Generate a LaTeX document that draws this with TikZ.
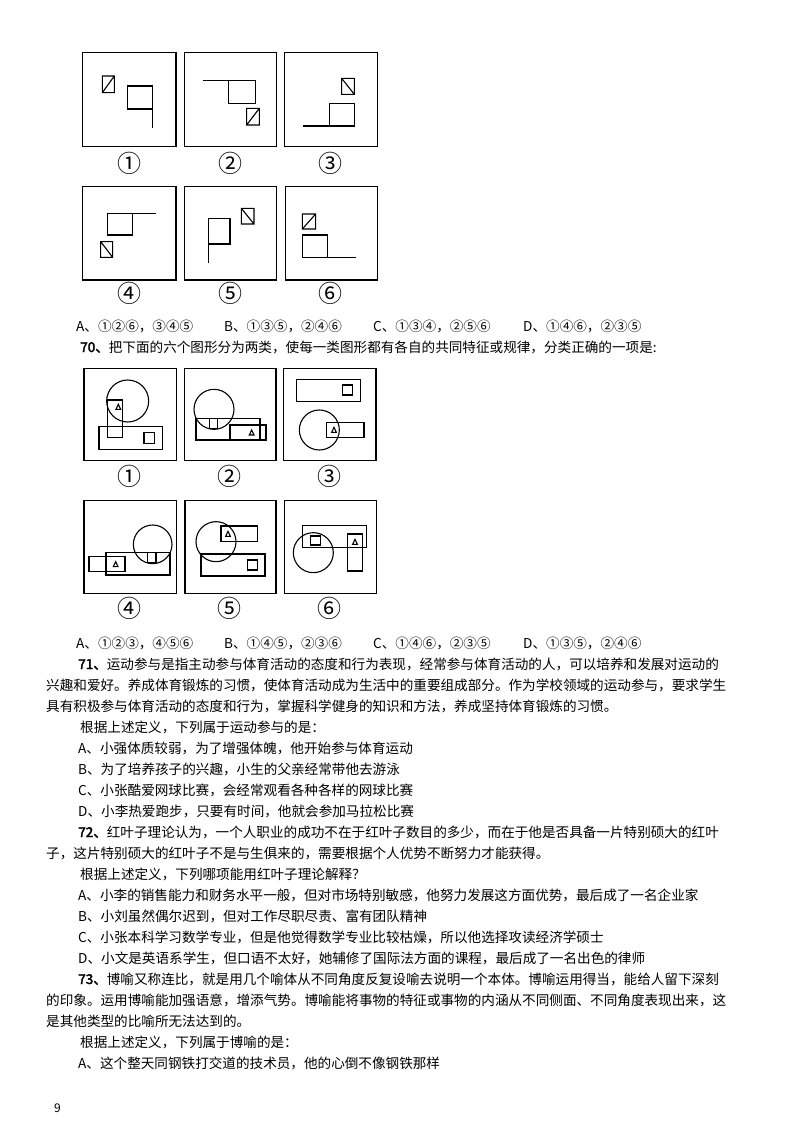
\documentclass[tikz,border=0pt]{standalone}
\usepackage{fontspec}
\newfontfamily\cjk{Noto Sans CJK SC}
\newfontfamily\cjkb[FakeBold=2.5]{Noto Sans CJK SC}
\begin{document}
\begin{tikzpicture}[x=1pt,y=-1pt,
  frame/.style={line width=1.6pt},
  fig/.style={line width=1.1pt},
  txt/.style={anchor=base west,inner sep=0pt,font=\cjk\fontsize{13.6}{16}\selectfont},
  lab/.style={inner sep=0pt,font=\cjk\fontsize{24}{26}\selectfont}]
\useasboundingbox[fill=white] (0,0) rectangle (800,1132);
\newcommand\tri[2]{\draw[line width=1.1pt] (#1-7,#2+7)--(#1+7,#2+7)--(#1,#2-8)--cycle;}
% ---- Q69 figures
\begin{scope}[shift={(70,40)},scale=1/3]
\draw[frame] (37,38) rectangle (318,320);
\draw[fig] (97,108) rectangle (133,158) (97,158)--(133,108);
\draw[fig] (173,138) rectangle (248,207) (248,138)--(248,265);
\draw[frame] (343,38) rectangle (620,320);
\draw[fig] (400,122)--(557,122) (475,122) rectangle (557,190);
\draw[fig] (530,205) rectangle (568,255) (530,255)--(568,205);
\draw[frame] (643,38) rectangle (922,320);
\draw[fig] (815,115) rectangle (853,163) (815,115)--(853,163);
\draw[fig] (778,190) rectangle (853,258) (700,258)--(778,258);
\draw[frame] (37,440) rectangle (318,720);
\draw[fig] (112,520) rectangle (187,585) (187,520)--(257,520);
\draw[fig] (92,605) rectangle (128,652) (92,605)--(128,652);
\draw[frame] (343,440) rectangle (620,720);
\draw[fig] (415,535) rectangle (480,612) (415,612)--(415,668);
\draw[fig] (514,505) rectangle (552,552) (514,505)--(552,552);
\draw[frame] (647,440) rectangle (922,720);
\draw[fig] (697,522) rectangle (737,567) (697,567)--(737,522);
\draw[fig] (697,585) rectangle (773,652) (773,652)--(857,652);
\node[lab] (l1) at (177,370) {①};
\node[lab] (l2) at (480,370) {②};
\node[lab] (l3) at (780,370) {③};
\node[lab] (l4) at (177,760) {④};
\node[lab] (l5) at (480,760) {⑤};
\node[lab] (l6) at (780,760) {⑥};
\end{scope}
% ---- Q70 figures
\begin{scope}[shift={(70,360)},scale=1/3]
\draw[frame] (42,25) rectangle (320,302);
\draw[fig] (173,123) circle[radius=63];
\draw[fig] (112,120) rectangle (158,232);
\tri{145}{141}
\draw[fig] (87,200) rectangle (277,268) (222,218) rectangle (254,250);
\draw[frame] (343,25) rectangle (618,302);
\draw[fig] (432,148) circle[radius=60];
\draw[fig] (378,175) rectangle (570,240) (418,175) rectangle (442,205);
\draw[fig] (480,195) rectangle (588,240);
\tri{545}{218}
\draw[frame] (640,25) rectangle (918,302);
\draw[fig] (680,58) rectangle (872,125) (818,75) rectangle (848,105);
\draw[fig] (748,210) circle[radius=60];
\draw[fig] (770,188) rectangle (882,232);
\tri{792}{210}
\draw[frame] (42,422) rectangle (320,700);
\draw[fig] (248,553) circle[radius=58];
\draw[fig] (108,578) rectangle (300,645) (232,578) rectangle (258,608);
\draw[fig] (57,590) rectangle (165,635);
\tri{137}{613}
\draw[frame] (345,422) rectangle (618,700);
\draw[fig] (438,545) circle[radius=60];
\draw[fig] (453,498) rectangle (562,545);
\tri{474}{522}
\draw[fig] (393,582) rectangle (585,648) (532,600) rectangle (562,630);
\draw[frame] (643,422) rectangle (920,700);
\draw[fig] (697,497) rectangle (890,563) (722,528) rectangle (752,555);
\draw[fig] (730,578) circle[radius=60];
\draw[fig] (832,522) rectangle (878,633);
\tri{855}{546}
\node[lab] (m1) at (177,350) {①};
\node[lab] (m2) at (478,350) {②};
\node[lab] (m3) at (778,350) {③};
\node[lab] (m4) at (177,745) {④};
\node[lab] (m5) at (478,745) {⑤};
\node[lab] (m6) at (778,745) {⑥};
\end{scope}
% ---- text
\node[txt] (o1a) at (76,331) {A、①②⑥，③④⑤};
\node[txt] (o1b) at (224,331) {B、①③⑤，②④⑥};
\node[txt] (o1c) at (373,331) {C、①③④，②⑤⑥};
\node[txt] (o1d) at (523,331) {D、①④⑥，②③⑤};
\node[txt] (q70) at (80,352) {{\cjkb 70、}把下面的六个图形分为两类，使每一类图形都有各自的共同特征或规律，分类正确的一项是:};
\node[txt] (o2a) at (76,648) {A、①②③，④⑤⑥};
\node[txt] (o2b) at (224,648) {B、①④⑤，②③⑥};
\node[txt] (o2c) at (373,648) {C、①④⑥，②③⑤};
\node[txt] (o2d) at (523,648) {D、①③⑤，②④⑥};
\node[txt] (t1) at (78,669) {{\cjkb 71、}运动参与是指主动参与体育活动的态度和行为表现，经常参与体育活动的人，可以培养和发展对运动的};
\node[txt] (t2) at (46,690) {兴趣和爱好。养成体育锻炼的习惯，使体育活动成为生活中的重要组成部分。作为学校领域的运动参与，要求学生};
\node[txt] (t3) at (46,711) {具有积极参与体育活动的态度和行为，掌握科学健身的知识和方法，养成坚持体育锻炼的习惯。};
\node[txt] (t4) at (80,732) {根据上述定义，下列属于运动参与的是：};
\node[txt] (t5) at (78,753) {A、小强体质较弱，为了增强体魄，他开始参与体育运动};
\node[txt] (t6) at (78,774) {B、为了培养孩子的兴趣，小生的父亲经常带他去游泳};
\node[txt] (t7) at (78,795) {C、小张酷爱网球比赛，会经常观看各种各样的网球比赛};
\node[txt] (t8) at (78,816) {D、小李热爱跑步，只要有时间，他就会参加马拉松比赛};
\node[txt] (t9) at (78,837) {{\cjkb 72、}红叶子理论认为，一个人职业的成功不在于红叶子数目的多少，而在于他是否具备一片特别硕大的红叶};
\node[txt] (t10) at (46,858) {子，这片特别硕大的红叶子不是与生俱来的，需要根据个人优势不断努力才能获得。};
\node[txt] (t11) at (80,879) {根据上述定义，下列哪项能用红叶子理论解释？};
\node[txt] (t12) at (78,900) {A、小李的销售能力和财务水平一般，但对市场特别敏感，他努力发展这方面优势，最后成了一名企业家};
\node[txt] (t13) at (78,921) {B、小刘虽然偶尔迟到，但对工作尽职尽责、富有团队精神};
\node[txt] (t14) at (78,942) {C、小张本科学习数学专业，但是他觉得数学专业比较枯燥，所以他选择攻读经济学硕士};
\node[txt] (t15) at (78,963) {D、小文是英语系学生，但口语不太好，她辅修了国际法方面的课程，最后成了一名出色的律师};
\node[txt] (t16) at (78,984) {{\cjkb 73、}博喻又称连比，就是用几个喻体从不同角度反复设喻去说明一个本体。博喻运用得当，能给人留下深刻};
\node[txt] (t17) at (46,1005) {的印象。运用博喻能加强语意，增添气势。博喻能将事物的特征或事物的内涵从不同侧面、不同角度表现出来，这};
\node[txt] (t18) at (46,1026) {是其他类型的比喻所无法达到的。};
\node[txt] (t19) at (80,1047) {根据上述定义，下列属于博喻的是：};
\node[txt] (t20) at (78,1068) {A、这个整天同钢铁打交道的技术员，他的心倒不像钢铁那样};
\node[txt,font=\cjk\fontsize{12}{14}\selectfont] (pg) at (54,1112) {9};
\end{tikzpicture}
\end{document}
